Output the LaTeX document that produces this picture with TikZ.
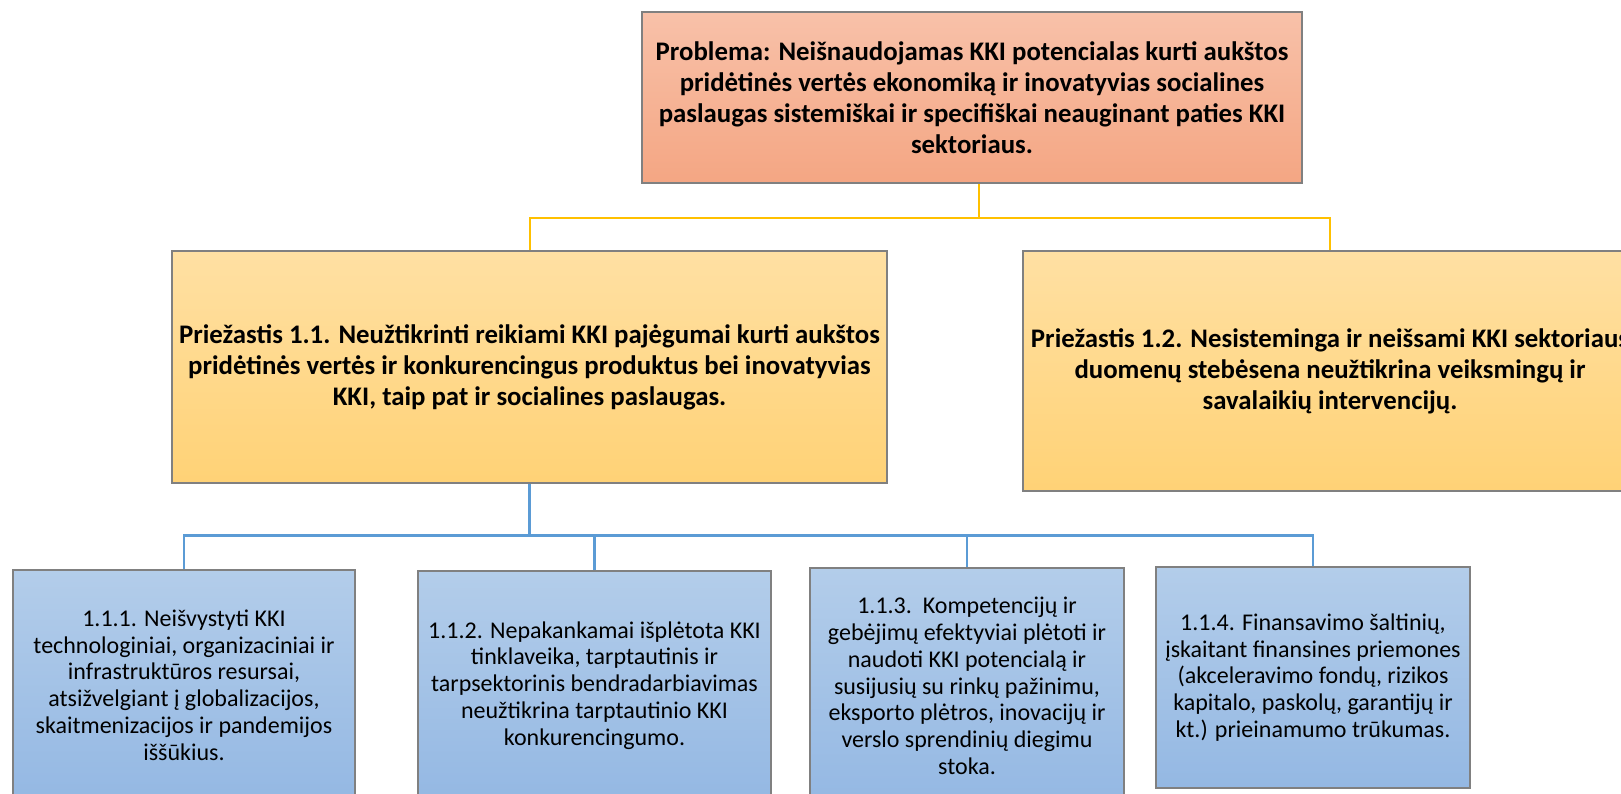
\documentclass[tikz,border=0pt]{standalone}
\usepackage{fontspec}
\setmainfont{Carlito}
\definecolor{boxline}{RGB}{128,128,128}
\definecolor{probtop}{RGB}{248,193,169}
\definecolor{probbot}{RGB}{244,166,131}
\definecolor{causetop}{RGB}{255,224,163}
\definecolor{causebot}{RGB}{255,210,118}
\definecolor{subtop}{RGB}{179,205,234}
\definecolor{subbot}{RGB}{148,184,227}
\definecolor{goldline}{RGB}{255,192,0}
\definecolor{blueline}{RGB}{91,155,213}
\begin{document}
\begin{tikzpicture}[x=0.5pt,y=-0.5pt,
		probbox/.style={draw=boxline,line width=.75pt,top color=probtop,bottom color=probbot,align=center,inner sep=0pt,
			font=\fontsize{13.4pt}{15.5pt}\selectfont\bfseries},
		causebox/.style={draw=boxline,line width=.75pt,top color=causetop,bottom color=causebot,align=center,inner sep=0pt,
			font=\fontsize{13.4pt}{15.5pt}\selectfont\bfseries},
		subbox/.style={draw=boxline,line width=.75pt,top color=subtop,bottom color=subbot,align=center,inner sep=0pt,
			font=\fontsize{12pt}{13.4pt}\selectfont},
		goldlink/.style={draw=goldline,line width=1pt},
		bluelink/.style={draw=blueline,line width=1.3pt}]
	\useasboundingbox (0,0) rectangle (1621,793);
	
	\node[probbox,minimum width=330pt,minimum height=85.5pt] (prob) at (972,97.5)
	{Problema: Neišnaudojamas KKI potencialas kurti aukštos\\ pridėtinės vertės ekonomiką ir inovatyvias socialines\\ paslaugas sistemiškai ir specifiškai neauginant paties KKI\\ sektoriaus.};
	
	\node[causebox,minimum width=357.5pt,minimum height=116pt] (cause1) at (529.5,367)
	{Priežastis 1.1. Neužtikrinti reikiami KKI pajėgumai kurti aukštos\\ pridėtinės vertės ir konkurencingus produktus bei inovatyvias\\ KKI, taip pat ir socialines paslaugas.};
	\node[causebox,minimum width=307pt,minimum height=120pt] (cause2) at (1330,371)
	{Priežastis 1.2. Nesisteminga ir neišsami KKI sektoriaus\\ duomenų stebėsena neužtikrina veiksmingų ir\\ savalaikių intervencijų.};
	
	\node[subbox,minimum width=171pt,minimum height=115pt] (sub1) at (184,685)
	{1.1.1. Neišvystyti KKI\\ technologiniai, organizaciniai ir\\ infrastruktūros resursai,\\ atsižvelgiant į globalizacijos,\\ skaitmenizacijos ir pandemijos\\ iššūkius.};
	\node[subbox,minimum width=176.5pt,minimum height=114.5pt] (sub2) at (594.5,685.5)
	{1.1.2. Nepakankamai išplėtota KKI\\ tinklaveika, tarptautinis ir\\ tarpsektorinis bendradarbiavimas\\ neužtikrina tarptautinio KKI\\ konkurencingumo.};
	\node[subbox,minimum width=157pt,minimum height=118pt] (sub3) at (967,686)
	{1.1.3.\ \ Kompetencijų ir\\ gebėjimų efektyviai plėtoti ir\\ naudoti KKI potencialą ir\\ susijusių su rinkų pažinimu,\\ eksporto plėtros, inovacijų ir\\ verslo sprendinių diegimu\\ stoka.};
	\node[subbox,minimum width=157pt,minimum height=110.5pt] (sub4) at (1313,677.5)
	{1.1.4. Finansavimo šaltinių,\\ įskaitant finansines priemones\\ (akceleravimo fondų, rizikos\\ kapitalo, paskolų, garantijų ir\\ kt.) prieinamumo trūkumas.};
	
	%\draw[goldlink] (prob.south) -- (cause1.north);
	\draw[goldlink] ([xshift=3.5pt]prob.south) -- ++(0,34) coordinate (goldhub);
	\draw[goldlink] (goldhub) -| (cause1.north);
	\draw[goldlink] (goldhub) -| (cause2.north);
	
	\draw[bluelink] (cause1.south) -- ++(0,52) coordinate (bluehub);
	\foreach \sub in {sub1,sub2,sub3,sub4}
		\draw[bluelink] (bluehub) -| (\sub.north);
\end{tikzpicture}
\end{document}
